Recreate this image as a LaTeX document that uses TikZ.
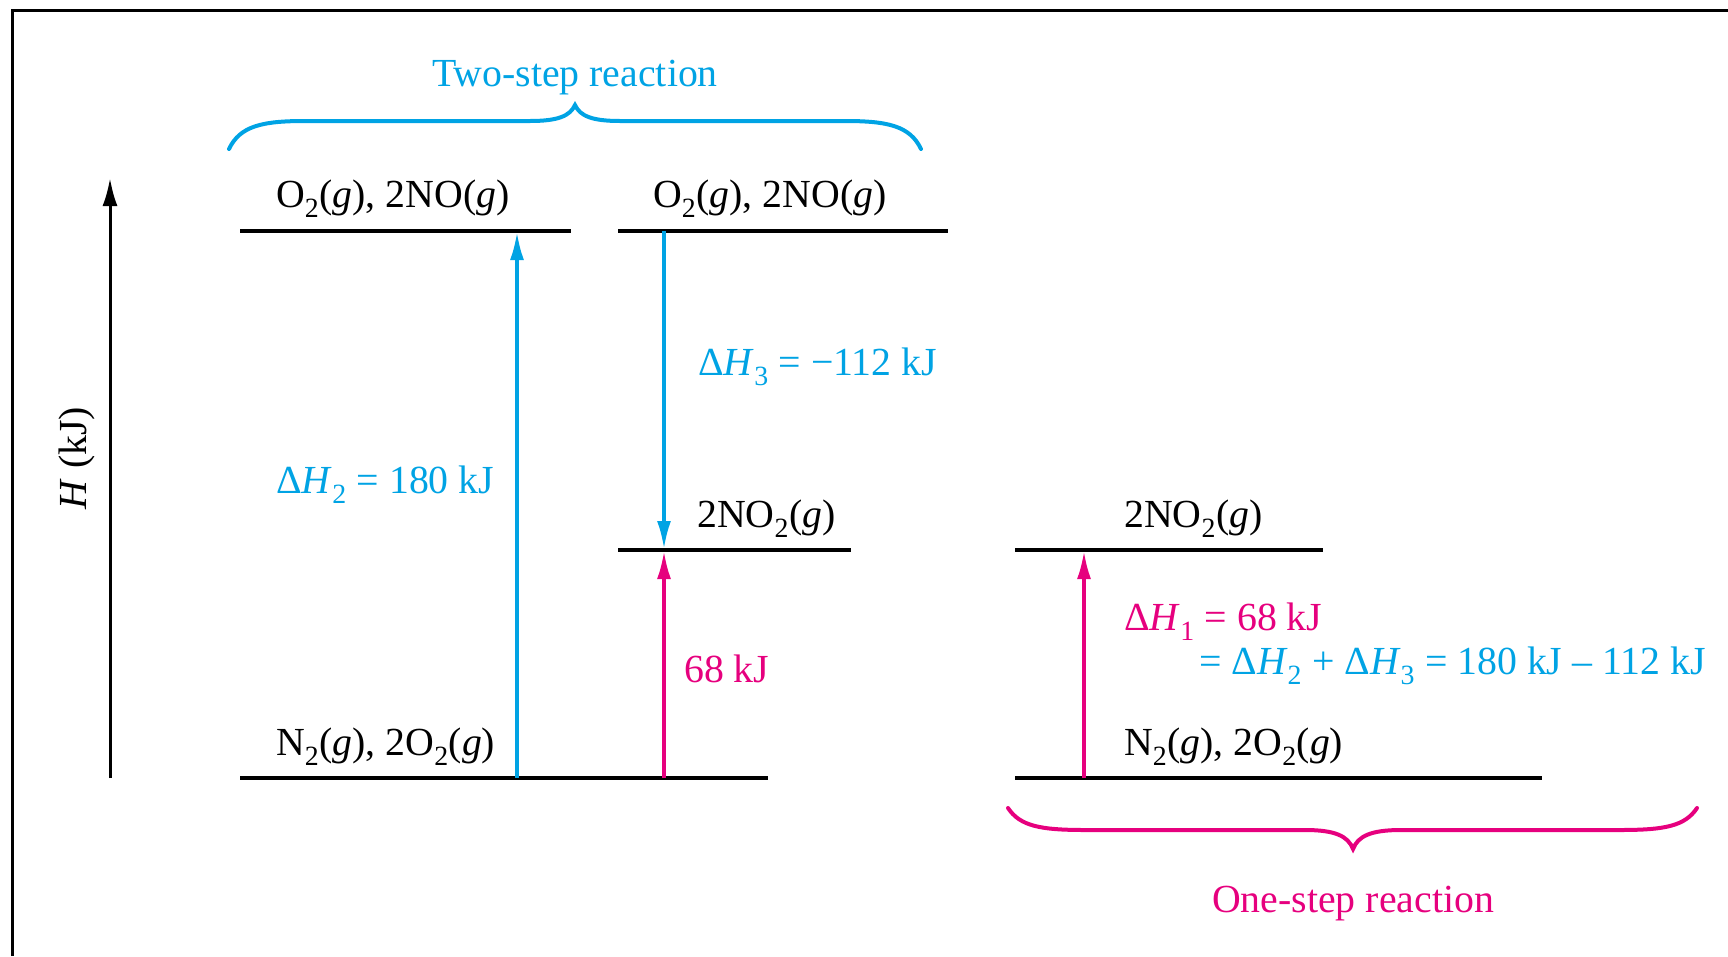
\documentclass[tikz,border=0pt]{standalone}
\usepackage{fontspec}
\setmainfont{Liberation Serif}
\usetikzlibrary{arrows.meta}
\definecolor{rblue}{RGB}{0,163,228}
\definecolor{rpink}{RGB}{230,0,126}
\newcommand\lsub[1]{\textsubscript{#1}}
\begin{document}
\begin{tikzpicture}[x=1pt,y=-1pt,
  levelline/.style={line width=4.5pt},
  arr/.style={line width=3.3pt,-{Latex[length=28pt,width=14pt]}},
  lbl/.style={font=\fontsize{39.8}{44}\selectfont,inner sep=0pt},
  bracepath/.style={line width=4pt,line cap=round}]
\useasboundingbox (0,0) rectangle (1728,956);
\draw[line width=3pt] (12,956) -- (12,10) -- (1728,10);

% axis
\coordinate (axb) at (110,778);
\coordinate (axt) at (110,178);
\draw[line width=3pt,-{Latex[length=28pt,width=15pt]}] (axb) -- (axt);
\node[lbl,rotate=90] (hlab) at (77,458) {\textit{H} (kJ)};

% levels, left two-step
\coordinate (t1a) at (240,231); \coordinate (t1b) at (571,231);
\coordinate (t2a) at (618,231); \coordinate (t2b) at (948,231);
\coordinate (m1a) at (618,550); \coordinate (m1b) at (851,550);
\coordinate (b1a) at (240,778); \coordinate (b1b) at (768,778);
\draw[levelline] (t1a) -- (t1b);
\draw[levelline] (t2a) -- (t2b);
\draw[levelline] (m1a) -- (m1b);
\draw[levelline] (b1a) -- (b1b);
% levels, right one-step
\coordinate (m2a) at (1015,550); \coordinate (m2b) at (1323,550);
\coordinate (b2a) at (1015,778); \coordinate (b2b) at (1542,778);
\draw[levelline] (m2a) -- (m2b);
\draw[levelline] (b2a) -- (b2b);

% level labels
\node[lbl,anchor=west] (o2a) at (276,199) {O\lsub{2}(\textit{g}), 2NO(\textit{g})};
\node[lbl,anchor=west] (o2b) at (653,199) {O\lsub{2}(\textit{g}), 2NO(\textit{g})};
\node[lbl,anchor=west] (no2a) at (697,519) {2NO\lsub{2}(\textit{g})};
\node[lbl,anchor=west] (n2a) at (276,747) {N\lsub{2}(\textit{g}), 2O\lsub{2}(\textit{g})};
\node[lbl,anchor=west] (no2b) at (1124,519) {2NO\lsub{2}(\textit{g})};
\node[lbl,anchor=west] (n2b) at (1124,747) {N\lsub{2}(\textit{g}), 2O\lsub{2}(\textit{g})};

% arrows
\coordinate (h2s) at (517,778); \coordinate (h2e) at (517,232);
\coordinate (h3s) at (664,231); \coordinate (h3e) at (664,549);
\coordinate (p1s) at (664,778); \coordinate (p1e) at (664,551);
\coordinate (p2s) at (1084,778); \coordinate (p2e) at (1084,551);
\draw[arr,rblue] (h2s) -- (h2e);
\draw[arr,rblue] (h3s) -- (h3e);
\draw[arr,rpink] (p1s) -- (p1e);
\draw[arr,rpink] (p2s) -- (p2e);

% arrow labels
\node[lbl,anchor=west,text=rblue] (dh2) at (276,485) {Δ\textit{H}\lsub{2} = 180 kJ};
\node[lbl,anchor=west,text=rblue] (dh3) at (698,367) {Δ\textit{H}\lsub{3} = −112 kJ};
\node[lbl,anchor=west,text=rpink] (k68) at (684,669) {68 kJ};
\node[lbl,anchor=west,text=rpink] (dh1) at (1124,622) {Δ\textit{H}\lsub{1} = 68 kJ};
\node[lbl,anchor=west,text=rblue] (dsum) at (1199,666) {= Δ\textit{H}\lsub{2} + Δ\textit{H}\lsub{3} = 180 kJ – 112 kJ};

% braces
\draw[bracepath,rblue] (229,149) .. controls (240,126) and (262,121) .. (305,121)
  -- (530,121) .. controls (558,121) and (570,116) .. (575,105)
  .. controls (580,116) and (592,121) .. (620,121)
  -- (845,121) .. controls (888,121) and (910,126) .. (921,149);
\node[lbl,text=rblue] (two) at (575,78) {Two-step reaction};

\draw[bracepath,rpink] (1008,808) .. controls (1020,826) and (1040,830) .. (1085,830)
  -- (1305,830) .. controls (1335,830) and (1348,836) .. (1353,849)
  .. controls (1358,836) and (1371,830) .. (1401,830)
  -- (1620,830) .. controls (1665,830) and (1685,826) .. (1697,808);
\node[lbl,text=rpink] (one) at (1353,904) {One-step reaction};
\end{tikzpicture}
\end{document}
